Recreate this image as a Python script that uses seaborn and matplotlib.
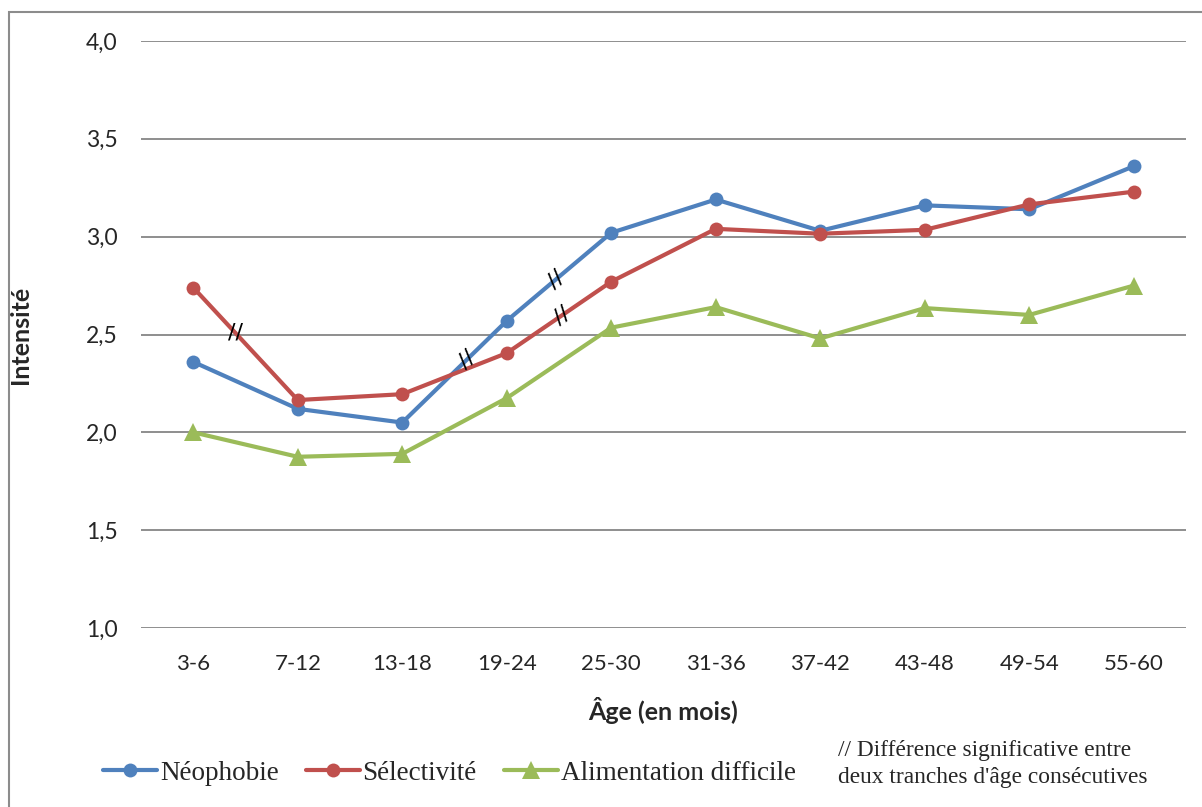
import matplotlib
matplotlib.use("Agg")
import matplotlib.pyplot as plt
import seaborn as sns
import pandas as pd
import numpy as np
from matplotlib.lines import Line2D
from matplotlib.patches import Rectangle

categories = ["3-6", "7-12", "13-18", "19-24", "25-30", "31-36", "37-42", "43-48", "49-54", "55-60"]
neophobie = [2.36, 2.12, 2.05, 2.57, 3.02, 3.19, 3.03, 3.16, 3.14, 3.36]
selectivite = [2.74, 2.165, 2.195, 2.405, 2.77, 3.04, 3.015, 3.035, 3.165, 3.23]
alimentation = [2.00, 1.875, 1.89, 2.175, 2.535, 2.64, 2.48, 2.635, 2.60, 2.75]
series_names = ["Néophobie", "Sélectivité", "Alimentation difficile"]
y_ticks = [1.0, 1.5, 2.0, 2.5, 3.0, 3.5, 4.0]
y_tick_labels = ["1,0", "1,5", "2,0", "2,5", "3,0", "3,5", "4,0"]
# significance marks: (series index, segment start index, fraction along segment)
mark_series = [1, 0, 0, 1]
mark_segment = [0, 2, 3, 3]
mark_frac = [0.40, 0.62, 0.47, 0.53]
note_text = "// Différence significative entre\ndeux tranches d'âge consécutives"

colors = ["#4F81BD", "#C0504D", "#9BBB59"]
markers = ["o", "o", "^"]
msizes = [10, 10, 13]
mark_rot = [0, 40, 40, 35]

sns.set_theme(style="white")
plt.rcParams["font.family"] = ["Lato", "DejaVu Sans"]

all_vals = [neophobie, selectivite, alimentation]
df = pd.DataFrame({
    "x": list(range(len(categories))) * 3,
    "y": neophobie + selectivite + alimentation,
    "serie": sum([[n] * len(categories) for n in series_names], []),
})

fig = plt.figure(figsize=(12.02, 8.07), dpi=100)
ax = fig.add_axes([141 / 1202, 1 - 628 / 807, (1186 - 141) / 1202, (628 - 41) / 807])

for i, name in enumerate(series_names):
    sub = df[df["serie"] == name]
    sns.lineplot(data=sub, x="x", y="y", ax=ax, color=colors[i], linewidth=3,
                 marker=markers[i], markersize=msizes[i], markeredgewidth=0,
                 legend=False, zorder=3)

ax.set_xlim(-0.5, len(categories) - 0.5)
ax.set_ylim(1.0, 4.0)
ax.set_yticks(y_ticks)
ax.set_yticklabels(y_tick_labels, fontsize=16.5)
ax.set_xticks(range(len(categories)))
ax.set_xticklabels(categories, fontsize=16)
ax.tick_params(axis="y", length=0, pad=17)
ax.tick_params(axis="x", length=0, pad=19)
ax.grid(axis="y", color="#868686", linewidth=1.3)
ax.set_axisbelow(True)
for s in ax.spines.values():
    s.set_visible(False)
ax.set_xlabel("Âge (en mois)", fontsize=18, fontweight="bold", labelpad=16)
ax.set_ylabel("Intensité", fontsize=18, fontweight="bold")
ax.yaxis.set_label_coords((32 - 141) / (1186 - 141), 0.5)

# significance marks
for k in range(len(mark_series)):
    vals = all_vals[mark_series[k]]
    seg = mark_segment[k]
    t = mark_frac[k]
    xm = seg + t
    ym = vals[seg] + t * (vals[seg + 1] - vals[seg])
    ax.text(xm, ym, "//", ha="center", va="center", fontsize=16,
            rotation=mark_rot[k], color="black", family="DejaVu Sans", zorder=6)

# legend
handles = [Line2D([0], [0], color=colors[i], lw=3, marker=markers[i],
                  markersize=msizes[i], markeredgewidth=0) for i in range(3)]
leg = fig.legend(handles, series_names, loc="center left",
                 bbox_to_anchor=(103 / 1202, 1 - 773 / 807), ncol=3, frameon=False,
                 prop={"family": "Liberation Serif", "size": 19.5},
                 handlelength=2.0, handletextpad=0.1, columnspacing=1.0,
                 borderpad=0, borderaxespad=0)

fig.text(838 / 1202, 1 - 764 / 807, note_text, ha="left", va="center",
         family="Liberation Serif", fontsize=16.8, linespacing=1.35)

# outer border
fig.patches.append(Rectangle((9 / 1202, -0.1), 1.2, 1 - 12 / 807 + 0.1,
                             transform=fig.transFigure, fill=False,
                             edgecolor="#8c8c8c", linewidth=1.5))

fig.savefig("out.png", dpi=100)
